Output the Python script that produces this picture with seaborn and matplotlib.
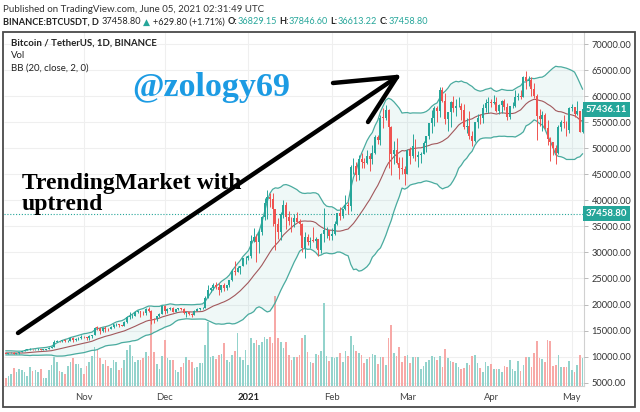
import numpy as np
import pandas as pd
import matplotlib
matplotlib.use("Agg")
import matplotlib.pyplot as plt
import seaborn as sns
from matplotlib.lines import Line2D
from matplotlib.patches import Rectangle

# closes Sep 14 - Oct 2 2020, only needed to warm up the BB(20)
warmup_close = [10680, 10786, 10955, 10941, 10933, 11081, 10920, 10418, 10530, 10241,
                10737, 10688, 10729, 10775, 10696, 10841, 10777, 10620, 10570]

start_date = "2020-10-03"

close = [
    # Oct
    10545, 10670, 10785, 10600, 10670, 10925, 11055, 11300, 11375, 11540, 11430, 11430, 11505, 11325, 11370,
    11515, 11755, 11915, 12825, 12975, 12935, 13130, 13030, 13070, 13640, 13280, 13460, 13560, 13800,
    # Nov
    13760, 13550, 14030, 14150, 15590, 15580, 14830, 15480, 15330, 15300, 15700, 16280, 16320, 16070, 15960,
    16720, 17660, 17800, 17820, 18650, 18680, 18420, 18370, 19160, 18720, 17150, 17140, 17720, 18180, 19700,
    # Dec
    18770, 19210, 19420, 18650, 19150, 19360, 19170, 18320, 18550, 18250, 18040, 18800, 19170, 19270, 19430,
    21330, 22800, 23110, 23820, 23450, 22700, 23800, 23230, 23700, 24690, 26440, 26250, 27040, 27350, 28860, 28920,
    # Jan
    29330, 32180, 33000, 31990, 33950, 36770, 39400, 40670, 40240, 38240, 35540, 34010, 37370, 39150, 36770,
    36010, 35810, 36610, 35920, 35490, 30850, 32950, 32080, 32260, 32250, 32510, 30430, 33470, 34260, 34260, 33090,
    # Feb
    33510, 35480, 37620, 36930, 38290, 39190, 38850, 46460, 46510, 44840, 47970, 47410, 47230, 48590,
    47910, 49150, 52120, 51550, 55890, 55840, 57410, 54090, 48890, 49680, 47070, 46280, 46100, 45140,
    # Mar
    49590, 48440, 50350, 48370, 48750, 48880, 50970, 52380, 54880, 55850, 57770, 57220, 61190, 59000, 55610,
    56900, 58910, 57650, 58030, 58100, 57350, 54080, 54340, 52300, 51300, 55030, 55840, 55780, 57630, 58730, 58740,
    # Apr
    58720, 58950, 57060, 58200, 59130, 57990, 55950, 58080, 58090, 59770, 59990, 59860, 63580, 62960, 63160,
    61330, 60000, 56150, 55630, 56430, 53790, 51700, 51150, 50050, 49000, 54020, 55030, 54820, 53540, 57700,
    # May
    57830, 56580, 57170, 53200, 57436,
]

high = [
    10600, 10700, 10800, 10800, 10690, 10950, 11100, 11490, 11440, 11730, 11560, 11550, 11630, 11540, 11400,
    11530, 11820, 12000, 13220, 13190, 13030, 13170, 13350, 13250, 13790, 13860, 13650, 13680, 14100,
    13900, 13830, 14080, 14250, 15750, 15970, 15770, 15660, 15840, 15480, 15960, 16340, 16480, 16330, 16150,
    16880, 17860, 18480, 18180, 18800, 18960, 18750, 18770, 19420, 19480, 18920, 17460, 17880, 18350, 19860,
    19890, 19340, 19590, 19510, 19180, 19420, 19390, 19290, 18640, 18560, 18290, 18950, 19410, 19350, 19570,
    21560, 23800, 23280, 24170, 24300, 24100, 23840, 24100, 23800, 24790, 26870, 28420, 27390, 27400, 28990, 29300,
    29600, 33300, 34780, 33600, 34500, 36940, 40360, 41950, 41380, 41350, 38260, 36630, 37850, 40100, 39700,
    37950, 36850, 37300, 37850, 36410, 35600, 33830, 33460, 32940, 34880, 32920, 32550, 33780, 38530, 34930, 34290,
    34720, 35980, 37660, 38710, 38300, 40950, 39700, 46800, 48200, 47300, 48680, 48990, 48150, 49710,
    49000, 50650, 52620, 52530, 56370, 57770, 58350, 57530, 54200, 51370, 52040, 48370, 48400, 46640,
    49790, 50200, 52640, 51770, 49450, 49200, 51450, 52400, 54900, 57390, 58150, 58060, 61790, 61680, 60600,
    56940, 58980, 60070, 59450, 59880, 58600, 58430, 55840, 57200, 53230, 55080, 56640, 56560, 58400, 59370, 59800,
    59490, 60200, 59800, 58490, 59250, 59480, 58650, 58150, 58870, 61220, 60690, 61200, 63770, 64850, 63800,
    63580, 62500, 60400, 57520, 57080, 56760, 55480, 52130, 51170, 50590, 54360, 55460, 56430, 55200, 57960,
    58450, 57950, 59000, 57200, 57940,
]

low = [
    10490, 10530, 10630, 10530, 10560, 10530, 10830, 11050, 11210, 11180, 11300, 11300, 11270, 11200, 11300,
    11340, 11400, 11690, 11900, 12720, 12730, 12880, 12900, 12790, 13060, 12900, 12990, 13130, 13430,
    13600, 13200, 13290, 13530, 14100, 15190, 14350, 14710, 14800, 14840, 15280, 15450, 15950, 15710, 15790,
    15870, 16550, 17220, 17330, 17750, 18330, 17610, 18000, 18020, 18580, 16330, 16440, 16880, 17520, 18180,
    18100, 18330, 18860, 18570, 18500, 18860, 18900, 18200, 17650, 17910, 17570, 18020, 18710, 19000, 19050,
    19290, 21230, 22350, 22750, 23060, 21810, 22350, 22600, 22700, 23430, 24500, 25700, 26200, 25880, 27320, 27850,
    28620, 28950, 31960, 28130, 29900, 33300, 36300, 36500, 38720, 35110, 30420, 32530, 32380, 36700, 34410,
    35360, 33850, 34850, 35780, 33400, 30070, 28850, 31390, 30900, 31910, 30840, 29240, 29840, 31920, 32830, 32300,
    32300, 33420, 35360, 36160, 36570, 38220, 37350, 37990, 45020, 43730, 43990, 46130, 46200, 47020,
    45570, 47000, 48950, 50900, 50700, 53860, 55480, 46230, 44890, 47000, 46920, 44100, 45000, 43000,
    45000, 47050, 48100, 47500, 46300, 47070, 48880, 49270, 51840, 53000, 54270, 55040, 56080, 58960, 54600,
    53270, 54120, 57020, 56270, 57820, 55450, 53650, 53000, 51700, 50430, 51280, 53960, 54700, 54900, 57010, 56770,
    57930, 58450, 56950, 56480, 56790, 57370, 55470, 55700, 57640, 57870, 59280, 59350, 59800, 61300, 62020,
    60000, 59580, 51540, 54220, 53330, 53620, 50580, 47500, 48750, 46930, 48820, 53220, 53890, 52330, 53010,
    57050, 56040, 56420, 53050, 52900,
]

# volume in thousand BTC
volume = [
    24, 30, 36, 54, 42, 51, 48, 42, 30, 57, 45, 48, 42, 51, 24, 24, 48, 63, 87, 72, 45, 42, 36, 60, 72, 84, 66, 66, 54,
    36, 60, 72, 90, 117, 108, 84, 66, 78, 60, 54, 78, 72, 48, 54, 78, 108, 123, 90, 72, 78, 78, 84, 102, 90, 222,
    102, 66, 51, 90,
    138, 84, 78, 78, 48, 42, 57, 69, 87, 78, 72, 54, 57, 69, 69, 123, 189, 87, 90, 81, 93, 96, 129, 78, 72, 93,
    105, 159, 87, 78, 108,
    63, 144, 129, 138, 123, 132, 147, 141, 147, 129, 267, 144, 132, 114, 132, 93, 78, 87, 87, 93, 144, 153, 102,
    72, 69, 96, 93, 105, 246, 90, 75,
    87, 84, 87, 99, 72, 105, 90, 150, 123, 105, 99, 93, 69, 81, 87, 96, 93, 66, 87, 87, 63, 144, 180, 99, 90, 117, 72, 90,
    93, 69, 87, 87, 87, 51, 60, 72, 78, 90, 87, 78, 90, 57, 111, 84, 75, 72, 69, 57, 51, 54, 69, 63, 90, 93, 69,
    54, 42, 72, 60,
    66, 51, 51, 51, 42, 60, 57, 78, 51, 45, 75, 45, 63, 87, 87, 57, 99, 135, 84, 81, 72, 138, 135, 60, 63, 93, 57,
    57, 57, 75,
    48, 42, 63, 93, 84,
]

month_ticks = ["2020-11-01", "2020-12-01", "2021-01-01", "2021-02-01", "2021-03-01", "2021-04-01", "2021-05-01"]
month_labels = ["Nov", "Dec", "2021", "Feb", "Mar", "Apr", "May"]
price_ticks = [5000, 10000, 15000, 20000, 25000, 30000, 35000, 40000, 45000, 50000, 55000, 60000, 65000, 70000]
last_close = 57436.11
published_price = 37458.80

UP = "#26a69a"
DOWN = "#ef5350"
UP_VOL = "#93d3cc"
DOWN_VOL = "#f7a9a7"
BAND = "#4aab9f"
BASIS = "#a2585c"

sns.set_style("white")
plt.rcParams["font.family"] = ["Lato", "DejaVu Sans"]

dates = pd.date_range(start_date, periods=len(close), freq="D")
df = pd.DataFrame({"close": close, "high": high, "low": low, "volume": volume}, index=dates)
df["open"] = [warmup_close[-1]] + close[:-1]

# Bollinger Bands (20, close, 2)
all_close = pd.Series(warmup_close + close, dtype=float)
basis = all_close.rolling(20).mean().values[len(warmup_close):]
dev = all_close.rolling(20).std(ddof=0).values[len(warmup_close):]
df["basis"] = basis
df["upper"] = basis + 2 * dev
df["lower"] = basis - 2 * dev

is_up = df["close"] >= df["open"]
candle_col = np.where(is_up, UP, DOWN)
vol_col = np.where(is_up, UP_VOL, DOWN_VOL)

W, H = 640, 412
def fx(px):
    return px / W
def fy(py):
    return 1 - py / H

fig = plt.figure(figsize=(6.4, 4.12), dpi=100)
fig.patch.set_facecolor("white")

ax_vol = fig.add_axes([fx(4), fy(386), fx(584) - fx(4), fy(32) - fy(386)])
ax = ax_vol.twinx()

# volume (behind everything)
ax_vol.bar(df.index, df["volume"], width=0.62, color=vol_col, linewidth=0, zorder=2)
ax_vol.set_ylim(0, 1053)
ax_vol.set_yticks([])
ax_vol.set_xlim(pd.Timestamp("2020-10-02 09:00"), pd.Timestamp("2021-05-05 12:00"))
ax_vol.set_xticks(pd.to_datetime(month_ticks))
ax_vol.set_xticklabels(month_labels)
ax_vol.grid(axis="x", color="#efefef", lw=0.8)
ax_vol.set_axisbelow(True)
ax_vol.hlines(price_ticks, 0, 1, transform=ax.get_yaxis_transform(), color="#efefef", lw=0.8, zorder=0)
ax_vol.tick_params(axis="x", length=0, pad=5, labelsize=6.8, labelcolor="#444444")
for lbl in ax_vol.get_xticklabels():
    if lbl.get_text() == "2021":
        lbl.set_fontweight("bold")
        lbl.set_color("#222222")
for side in ["left", "top"]:
    ax_vol.spines[side].set_visible(False)
for side in ["bottom", "right"]:
    ax_vol.spines[side].set_color("#d0d0d0")
    ax_vol.spines[side].set_linewidth(0.8)

# Bollinger bands
ax.fill_between(df.index, df["lower"], df["upper"], color=UP, alpha=0.07, lw=0)
sns.lineplot(x=df.index, y=df["upper"], ax=ax, color=BAND, lw=0.9)
sns.lineplot(x=df.index, y=df["lower"], ax=ax, color=BAND, lw=0.9)
sns.lineplot(x=df.index, y=df["basis"], ax=ax, color=BASIS, lw=0.8)

# candles
body_low = np.minimum(df["open"], df["close"])
body_h = np.maximum(np.abs(df["close"] - df["open"]), 60)
ax.vlines(df.index, df["low"], df["high"], colors=candle_col, lw=0.7, zorder=3)
ax.bar(df.index, body_h, bottom=body_low, width=0.72, color=candle_col, linewidth=0, zorder=4)

ax.axhline(published_price, color=UP, ls=(0, (1, 1.6)), lw=0.8, zorder=2)

ax.set_ylim(4367, 72303)
ax.set_yticks(price_ticks)
ax.set_yticklabels([f"{p:.2f}" for p in price_ticks])
ax.tick_params(axis="y", length=3, width=0.6, color="#b0b0b0", pad=2.5, labelsize=6.7, labelcolor="#333333")
ax.set_xlabel("")
ax.set_ylabel("")
for s in ax.spines.values():
    s.set_visible(False)

for val in [last_close, published_price]:
    ax.text(1.003, val, f"{val:.2f}", transform=ax.get_yaxis_transform(), ha="left", va="center",
            fontsize=6.9, color="white", fontweight="bold",
            bbox=dict(boxstyle="square,pad=0.28", fc=UP, ec="none"), zorder=10, clip_on=False)

# header lines
renderer = fig.canvas.get_renderer()
def pieces(x, y, parts, size):
    for txt, col, wt, gap in parts:
        t = fig.text(fx(x), fy(y), txt, color=col, fontweight=wt, fontsize=size, ha="left", va="center")
        x += t.get_window_extent(renderer).width + gap

fig.text(fx(3), fy(9), "Published on TradingView.com, June 05, 2021 02:31:49 UTC",
         fontsize=7.0, color="#333333", ha="left", va="center")
dark = "#222222"
pieces(3, 22, [
    ("BINANCE:BTCUSDT, D", dark, "bold", 2.5),
    ("37458.80", dark, "normal", 2.5),
    ("\u25b2", UP, "normal", 2.5),
    ("+629.80 (+1.71%)", dark, "normal", 2.5),
    ("O:", dark, "bold", 0.3), ("36829.15", UP, "normal", 2.5),
    ("H:", dark, "bold", 0.3), ("37846.60", UP, "normal", 2.5),
    ("L:", dark, "bold", 0.3), ("36613.22", UP, "normal", 2.5),
    ("C:", dark, "bold", 0.3), ("37458.80", UP, "normal", 0),
], 6.6)

fig.text(fx(11), fy(43), "Bitcoin / TetherUS, 1D, BINANCE", fontsize=6.9, fontweight="bold",
         color=dark, ha="left", va="center")
fig.text(fx(11), fy(56), "Vol", fontsize=6.9, color=dark, ha="left", va="center")
fig.text(fx(11), fy(68), "BB (20, close, 2, 0)", fontsize=6.9, color=dark, ha="left", va="center")

# hand-written annotations
fig.text(fx(132), fy(96), "@zology69", fontsize=24.5, fontweight="bold", family="Liberation Serif",
         color="#1c9be3", ha="left", va="baseline")
fig.text(fx(22), fy(189), "TrendingMarket with", fontsize=17, fontweight="bold",
         family="Liberation Serif", color="black", ha="left", va="baseline")
fig.text(fx(22), fy(210), "uptrend", fontsize=17, fontweight="bold",
         family="Liberation Serif", color="black", ha="left", va="baseline")

tip = (397, 77)
for start in [(18, 333), (333, 83), (368, 122)]:
    fig.add_artist(Line2D([fx(start[0]), fx(tip[0])], [fy(start[1]), fy(tip[1])],
                          transform=fig.transFigure, color="black", lw=3.2, solid_capstyle="round"))

# outer frame
fig.add_artist(Rectangle((fx(3), fy(407)), fx(635) - fx(3), fy(32) - fy(407), transform=fig.transFigure,
                         fill=False, ec="#4a4a4a", lw=1.3))

fig.savefig("out.png", dpi=100)
